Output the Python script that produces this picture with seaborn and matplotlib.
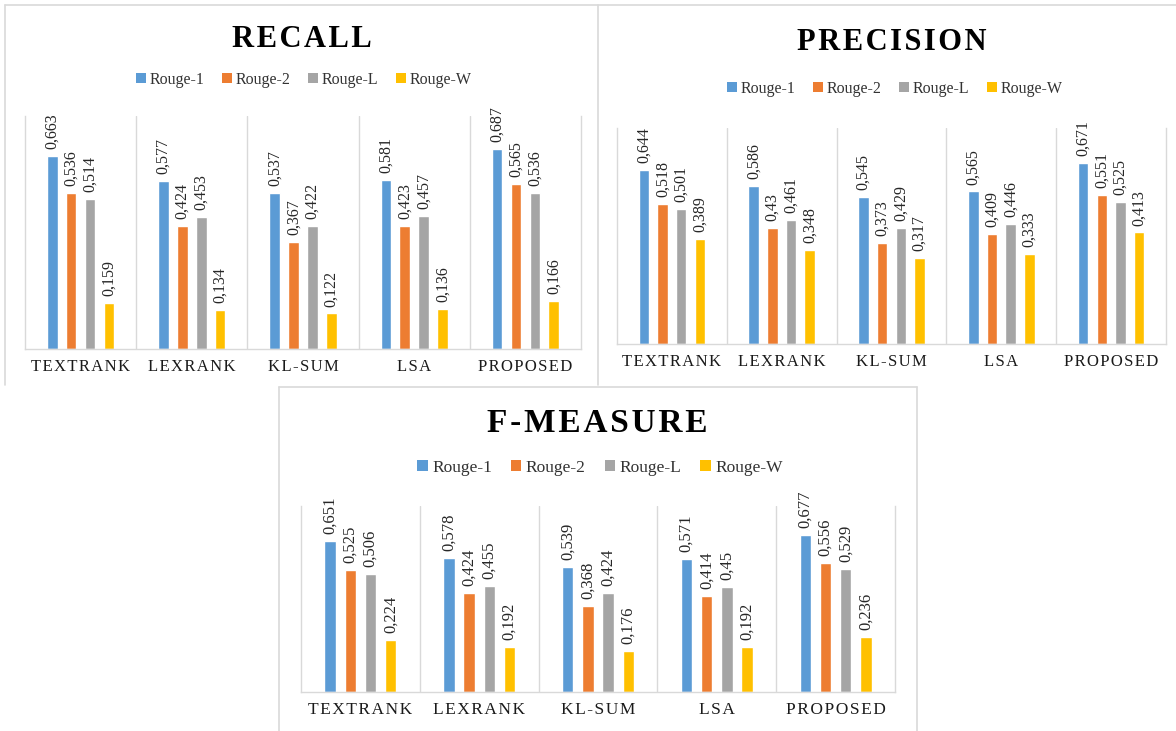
import numpy as np
import pandas as pd
import matplotlib
matplotlib.use("Agg")
import matplotlib.pyplot as plt
from matplotlib.lines import Line2D
from matplotlib.patches import Patch
import seaborn as sns

categories = ["TEXTRANK", "LEXRANK", "KL-SUM", "LSA", "PROPOSED"]
series = ["Rouge-1", "Rouge-2", "Rouge-L", "Rouge-W"]

recall_r1 = [0.663, 0.577, 0.537, 0.581, 0.687]
recall_r2 = [0.536, 0.424, 0.367, 0.423, 0.565]
recall_rl = [0.514, 0.453, 0.422, 0.457, 0.536]
recall_rw = [0.159, 0.134, 0.122, 0.136, 0.166]

precision_r1 = [0.644, 0.586, 0.545, 0.565, 0.671]
precision_r2 = [0.518, 0.43, 0.373, 0.409, 0.551]
precision_rl = [0.501, 0.461, 0.429, 0.446, 0.525]
precision_rw = [0.389, 0.348, 0.317, 0.333, 0.413]

f_r1 = [0.651, 0.578, 0.539, 0.571, 0.677]
f_r2 = [0.525, 0.424, 0.368, 0.414, 0.556]
f_rl = [0.506, 0.455, 0.424, 0.45, 0.529]
f_rw = [0.224, 0.192, 0.176, 0.192, 0.236]

titles = ["RECALL", "PRECISION", "F-MEASURE"]
colors = ["#5B9BD5", "#ED7D31", "#A5A5A5", "#FFC000"]

sns.set_theme(style="white")
SERIF = ["Liberation Serif", "DejaVu Serif"]
plt.rcParams["font.family"] = SERIF

W, H = 1176, 731
fig = plt.figure(figsize=(W / 100, H / 100), dpi=100)
fig.patch.set_facecolor("white")

GRID = "#D9D9D9"


def px_rect(l, b, r, t):
    return [l / W, 1 - b / H, (r - l) / W, (b - t) / H]


def fx(x):
    return x / W


def fy(y):
    return 1 - y / H


def spaced(s, sep="\u200a"):
    return sep.join(s)


def make_df(vals):
    rows = []
    for s, v in zip(series, vals):
        for c, x in zip(categories, v):
            rows.append({"method": c, "metric": s, "value": x})
    return pd.DataFrame(rows)


panels = [
    dict(vals=[recall_r1, recall_r2, recall_rl, recall_rw],
         rect=px_rect(25, 349, 581, 116), title_xy=(302, 47), leg_xy=(304, 80),
         tsize=22, ticksize=12, lsize=11.5, legsize=11.5, title=titles[0]),
    dict(vals=[precision_r1, precision_r2, precision_rl, precision_rw],
         rect=px_rect(617, 344, 1166, 128), title_xy=(892, 50), leg_xy=(895, 89),
         tsize=22, ticksize=12, lsize=11.5, legsize=11.5, title=titles[1]),
    dict(vals=[f_r1, f_r2, f_rl, f_rw],
         rect=px_rect(301, 692, 895, 506), title_xy=(597, 432), leg_xy=(600, 468),
         tsize=24, ticksize=12.5, lsize=12, legsize=12.5, title=titles[2]),
]

for p in panels:
    ax = fig.add_axes(p["rect"])
    df = make_df(p["vals"])
    sns.barplot(data=df, x="method", y="value", hue="metric",
                order=categories, hue_order=series, palette=colors,
                width=0.68, gap=0.44, saturation=1, errorbar=None,
                legend=False, ax=ax)
    ax.set_xlim(-0.5, len(categories) - 0.5)
    ax.set_ylim(0, 0.8)
    ax.set_xlabel("")
    ax.set_ylabel("")
    ax.set_yticks([])
    ax.set_xticks(range(len(categories)))
    ax.set_xticklabels([spaced(c) for c in categories], fontsize=p["ticksize"],
                       color="#1A1A1A", family=SERIF)
    ax.tick_params(axis="x", length=0, pad=7)
    ax.set_xticks(np.arange(0.5, len(categories) - 0.5, 1), minor=True)
    ax.tick_params(axis="x", which="minor", length=0)
    ax.grid(False)
    ax.grid(axis="x", which="minor", color=GRID, linewidth=1.0)
    ax.set_axisbelow(True)
    ax.spines["top"].set_visible(False)
    for sp in ["left", "right", "bottom"]:
        ax.spines[sp].set_color(GRID)
        ax.spines[sp].set_linewidth(1.0)
    for cont, v in zip(ax.containers, p["vals"]):
        labels = [f"{x:g}".replace(".", ",") for x in v]
        ax.bar_label(cont, labels=labels, rotation=90, padding=5,
                     fontsize=p["lsize"], color="#262626", family=SERIF)
    fig.text(fx(p["title_xy"][0]), fy(p["title_xy"][1]), spaced(p["title"], "\u200a"),
             ha="center", va="baseline", fontsize=p["tsize"], fontweight="bold",
             color="#000000", family=SERIF)
    handles = [Patch(facecolor=c, edgecolor="none") for c in colors]
    fig.legend(handles, series, loc="center",
               bbox_to_anchor=(fx(p["leg_xy"][0]), fy(p["leg_xy"][1])),
               ncol=4, frameon=False, handlelength=0.6, handleheight=0.6,
               handletextpad=0.25, columnspacing=1.1,
               prop={"family": SERIF, "size": p["legsize"]},
               labelcolor="#333333")

# panel borders
def fline(xs, ys):
    fig.add_artist(Line2D([fx(x) for x in xs], [fy(y) for y in ys],
                          color=GRID, linewidth=1.2, transform=fig.transFigure))

fline([5, 5], [5, 385])
fline([5, 1176], [5, 5])
fline([598, 598], [5, 385])
fline([279, 917], [387, 387])
fline([279, 279], [387, 731])
fline([917, 917], [387, 731])

fig.savefig("out.png", dpi=100, facecolor="white")
